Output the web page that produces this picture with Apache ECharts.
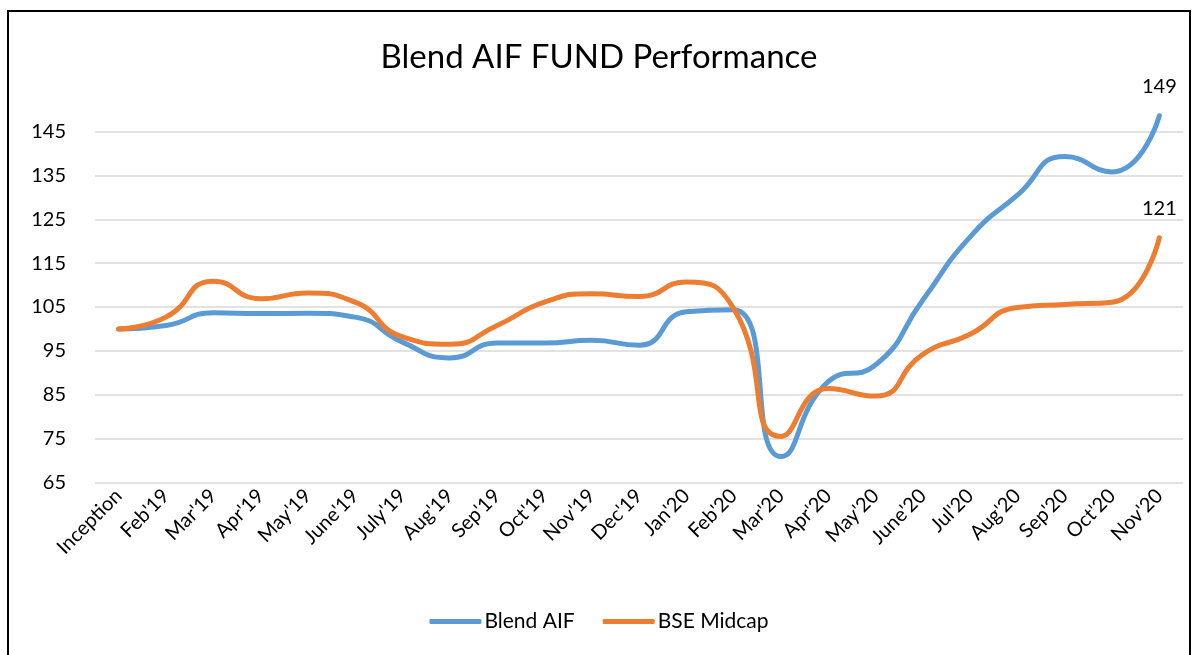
<!DOCTYPE html>
<html><head><meta charset="utf-8">
<script src="https://cdn.jsdelivr.net/npm/echarts@6/dist/echarts.min.js"></script>
<style>
html,body{margin:0;padding:0;background:#fff;}
#chart{position:absolute;left:0;top:0;width:1198px;height:655px;}
#frame{position:absolute;left:7px;top:10px;width:1184px;height:700px;border:2px solid #000;box-sizing:border-box;pointer-events:none;}
</style></head>
<body>
<div id="chart"></div><div id="frame"></div>
<script>
const categories = ["Inception","Feb'19","Mar'19","Apr'19","May'19","June'19","July'19","Aug'19","Sep'19","Oct'19","Nov'19","Dec'19","Jan'20","Feb'20","Mar'20","Apr'20","May'20","June'20","Jul'20","Aug'20","Sep'20","Oct'20","Nov'20"];
const blendAIF = [100,100.8,103.7,103.5,103.6,102.7,97.0,93.4,96.8,96.8,97.4,96.3,103.9,104.4,70.9,88.0,91.8,106.6,121.0,130.5,139.3,135.8,148.6];
const bseMidcap = [100,102.7,110.9,106.9,108.2,106.1,98.2,96.5,100.8,106.1,108.0,107.4,110.7,104.7,75.5,86.4,84.7,94.2,98.8,104.9,105.6,106.1,120.8];
const yTicks = {min:65, max:150, step:10};

const FONT = 'Lato';
function withEndLabel(arr){
  return arr.map((v,i)=> i===arr.length-1 ? {value:v, label:{show:true}} : v);
}
function lineSeries(name, data, color){
  return {name:name, type:'line', data:withEndLabel(data), smooth:0.55,
    symbol:'circle', symbolSize:0.1, showSymbol:true,
    lineStyle:{color:color, width:5, cap:'round'}, itemStyle:{color:color},
    label:{show:false, position:'top', distance:19, fontSize:20, color:'#000', fontFamily:FONT,
      formatter:p=>Math.round(p.value)}};
}
const chart = echarts.init(document.getElementById('chart'));
chart.setOption({
  animation:false,
  textStyle:{fontFamily:FONT},
  title:{text:'Blend AIF FUND Performance', left:'center', top:36,
    textStyle:{fontFamily:FONT, fontSize:33, fontWeight:'normal', color:'#000'}},
  grid:{left:95, right:15, top:109.6, bottom:172.5},
  legend:{bottom:18, left:'center', icon:'roundRect', itemWidth:52, itemHeight:5, itemGap:28,
    textStyle:{fontFamily:FONT, fontSize:21, color:'#000', padding:[0,0,0,-2]},
    data:['Blend AIF','BSE Midcap']},
  xAxis:{type:'category', data:categories, boundaryGap:true,
    axisLine:{show:false}, axisTick:{show:false},
    axisLabel:{rotate:45, fontSize:20, color:'#000', margin:10, interval:0, fontFamily:FONT}},
  yAxis:{type:'value', min:yTicks.min, max:yTicks.max, interval:yTicks.step,
    axisLine:{show:false}, axisTick:{show:false},
    axisLabel:{fontSize:20, color:'#000', margin:29, showMaxLabel:false, fontFamily:FONT},
    splitLine:{show:true, showMaxLine:false, lineStyle:{color:'#d9d9d9', width:1.5}}},
  series:[
    lineSeries('Blend AIF', blendAIF, '#5B9BD5'),
    lineSeries('BSE Midcap', bseMidcap, '#ED7D31')
  ]
});
</script>
</body></html>
